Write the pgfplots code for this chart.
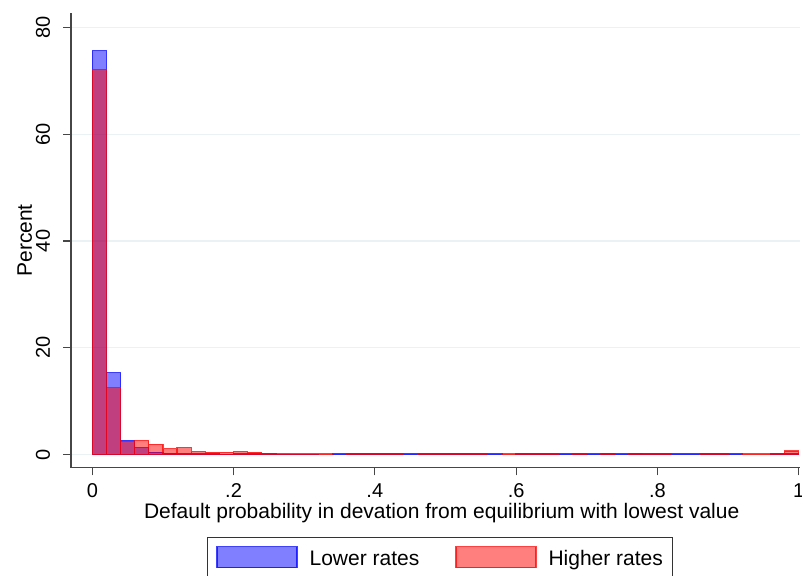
\documentclass[border=0pt]{standalone}
\usepackage{pgfplots}
\pgfplotsset{compat=1.18}
\usepackage{fontspec}
\setmainfont{Liberation Sans}
\definecolor{gridc}{RGB}{234,242,243}
\definecolor{axc}{RGB}{70,70,70}
\begin{document}
\begin{tikzpicture}
\useasboundingbox (0,0) rectangle (802pt,575pt);
\begin{axis}[
  at={(71pt,107.3pt)}, anchor=south west,
  scale only axis, width=729pt, height=454.7pt,
  xmin=-0.0302, xmax=1.002, ymin=-2.47, ymax=82.7,
  axis lines=left, axis line style={-, draw=axc, line width=1.1pt},
  x axis line style={-}, y axis line style={-},
  tick align=outside, major tick length=7.7pt,
  tick style={draw=axc, line width=1.1pt},
  xtick={0,0.2,0.4,0.6,0.8,1}, xticklabels={0,.2,.4,.6,.8,1},
  ytick={0,20,40,60,80}, yticklabels={0,20,40,60,80},
  /pgf/number format/assume math mode=true,
  ymajorgrids, grid style={draw=gridc, line width=1.1pt},
  tick label style={font=\fontsize{20}{24}\selectfont},
  xticklabel style={anchor=north, inner sep=0pt, yshift=-7.7pt},
  yticklabel style={xshift=-13pt, rotate=90, anchor=south, inner sep=0pt},
  xlabel={Default probability in devation from equilibrium with lowest value},
  ylabel={Percent},
  label style={font=\fontsize{21}{25}\selectfont},
  xlabel style={at={(axis description cs:0.5085,-0.1128)}, anchor=base, inner sep=0pt},
  ylabel style={at={(axis description cs:-0.0535,0.5)}, anchor=base, rotate=0, inner sep=0pt},
  legend columns=2,
  legend cell align=left,
  legend style={at={(0.1866,-0.153)}, anchor=north west, draw=black!80, line width=0.8pt,
    inner xsep=9pt, inner ysep=8.3pt, font=\fontsize{21}{25}\selectfont,
    nodes={inner sep=0pt, text height=17pt, text depth=0pt},
    /tikz/every odd column/.append style={column sep=12pt},
    /tikz/every even column/.append style={column sep=36pt}},
  legend image code/.code={\draw[#1] (0pt,-10.5pt) rectangle (80pt,10.5pt);},
]
\addplot[ybar, bar width=0.02, bar shift=0pt, fill=blue, fill opacity=0.5, draw=blue, draw opacity=0.75, line width=1.2pt]
coordinates {(0.01,75.6)(0.03,15.3)(0.05,2.6)(0.07,1.25)(0.09,0.45)(0.11,0.2)(0.13,0.15)(0.15,0.1)(0.17,0.08)(0.19,0.06)(0.21,0.1)(0.23,0.1)(0.25,0.08)(0.27,0.05)(0.29,0.05)(0.31,0.05)(0.35,0.1)(0.37,0.1)(0.39,0.12)(0.41,0.1)(0.43,0.1)(0.45,0.1)(0.47,0.08)(0.49,0.1)(0.51,0.15)(0.53,0.15)(0.55,0.1)(0.57,0.1)(0.61,0.15)(0.63,0.1)(0.65,0.1)(0.67,0.1)(0.69,0.1)(0.71,0.1)(0.73,0.2)(0.75,0.1)(0.77,0.2)(0.79,0.1)(0.81,0.1)(0.83,0.1)(0.85,0.1)(0.87,0.15)(0.89,0.15)(0.91,0.1)(0.97,0.1)(0.99,0.15)};
\addlegendentry{Lower rates}
\addplot[ybar, bar width=0.02, bar shift=0pt, fill=red, fill opacity=0.5, draw=red, draw opacity=0.75, line width=1.2pt]
coordinates {(0.01,72.1)(0.03,12.5)(0.05,2.4)(0.07,2.6)(0.09,1.9)(0.11,1.06)(0.13,1.3)(0.15,0.56)(0.17,0.38)(0.19,0.38)(0.21,0.56)(0.23,0.38)(0.25,0.25)(0.27,0.15)(0.29,0.12)(0.31,0.12)(0.33,0.12)(0.37,0.1)(0.39,0.12)(0.41,0.1)(0.43,0.1)(0.47,0.1)(0.49,0.1)(0.51,0.15)(0.53,0.15)(0.55,0.1)(0.59,0.1)(0.61,0.15)(0.63,0.1)(0.65,0.1)(0.69,0.1)(0.73,0.1)(0.77,0.1)(0.79,0.1)(0.81,0.1)(0.87,0.15)(0.89,0.15)(0.93,0.1)(0.95,0.1)(0.97,0.1)(0.99,0.65)};
\addlegendentry{Higher rates}
\end{axis}
\end{tikzpicture}
\end{document}
